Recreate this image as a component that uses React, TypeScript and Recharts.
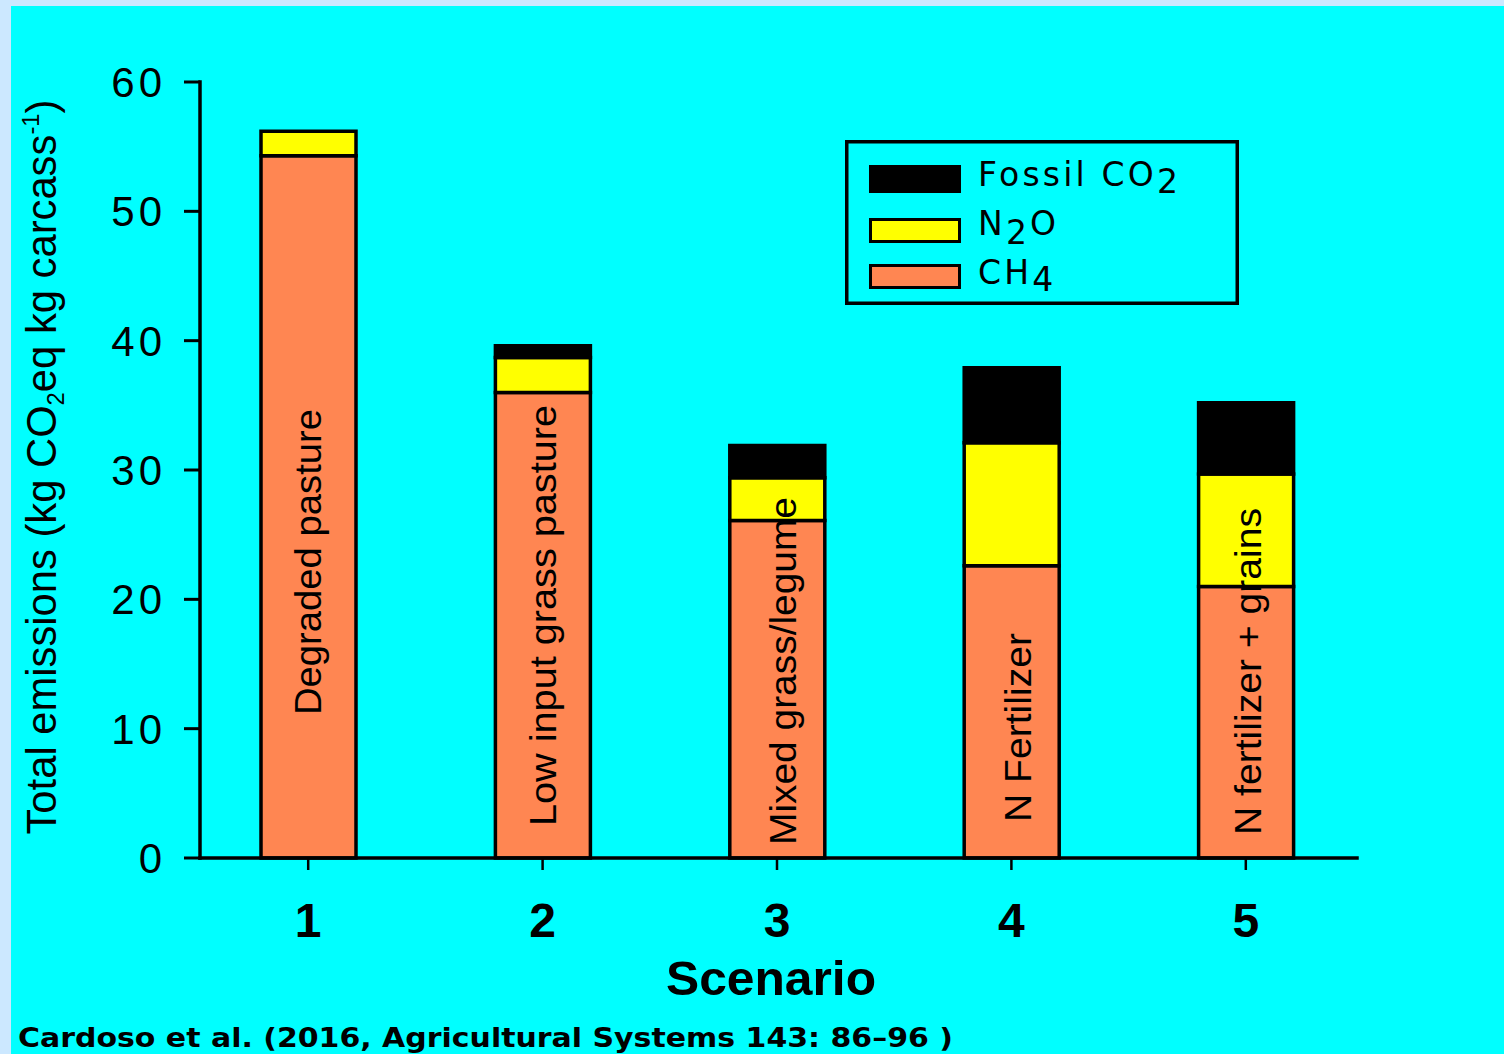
import { Bar, BarChart, Label, LabelList, Legend, XAxis, YAxis } from "recharts";

// scenario totals split by gas, kg CO2eq per kg carcass
const scenarios = ["1", "2", "3", "4", "5"];
const ch4 = [54.3, 36.0, 26.1, 22.6, 21.0];
const n2o = [1.9, 2.7, 3.3, 9.5, 8.7];
const fossilCo2 = [0, 0.9, 2.5, 5.8, 5.5];
const systemNames = ["Degraded pasture", "Low input grass pasture", "Mixed grass/legume", "N Fertilizer", "N fertilizer + grains"];
const yTicks = [0, 10, 20, 30, 40, 50, 60];

const data = scenarios.map((s, i) => ({ scenario: s, ch4: ch4[i], n2o: n2o[i], fossil: fossilCo2[i], name: systemNames[i] }));

// where the rotated system names sit inside the bars (px above the axis, text length)
const nameLift = [143, 32, 13, 36, 23];
const nameLength = [306, 421, 348, 189, 327];
const nameShift = [0, 0, 6, 6, 2];

const ARIAL = "'Liberation Sans', Arial, sans-serif";
const VERDANA = "'DejaVu Sans', Verdana, sans-serif";
const CH4_COLOR = "#FF8652";
const N2O_COLOR = "#FFFF00";

function XTick({ x, y, payload }: any) {
  return (
    <text x={x} y={y} dy="0.71em" textAnchor="middle" fontSize={48} fontWeight={700} fontFamily={ARIAL} fill="#000">
      {payload.value}
    </text>
  );
}

function YTick({ y, payload }: any) {
  return (
    <text x={166} y={y} dy="0.36em" textAnchor="end" fontSize={42} fontFamily={ARIAL} letterSpacing={4} fill="#000">
      {payload.value}
    </text>
  );
}

function SystemName(props: any) {
  const vb = props.viewBox ?? props;
  const i = props.index;
  const cx = vb.x + vb.width / 2 + nameShift[i];
  const bottom = vb.y + vb.height - nameLift[i];
  return (
    <text
      transform={`translate(${cx},${bottom}) rotate(-90)`}
      dy="0.35em"
      fontSize={37}
      fontFamily={ARIAL}
      fill="#000"
      textLength={nameLength[i]}
      lengthAdjust="spacingAndGlyphs"
    >
      {systemNames[i]}
    </text>
  );
}

function LegendBox() {
  return (
    <svg width={394} height={165} style={{ display: "block" }}>
      <rect x={1.75} y={1.75} width={390.5} height={161.5} fill="none" stroke="#000" strokeWidth={3.5} />
      <rect x={24} y={25} width={92} height={28} fill="#000" />
      <rect x={25.5} y={79.5} width={89} height={22} fill={N2O_COLOR} stroke="#000" strokeWidth={3} />
      <rect x={25.5} y={125.5} width={89} height={22} fill={CH4_COLOR} stroke="#000" strokeWidth={3} />
      <g fontSize={33} fontFamily={VERDANA} letterSpacing={3.2} fill="#000">
        <text x={133} y={46}>
          Fossil CO<tspan dy={7}>2</tspan>
        </text>
        <text x={133} y={95}>
          N<tspan dy={9}>2</tspan>
          <tspan dy={-9}>O</tspan>
        </text>
        <text x={133} y={144}>
          CH<tspan dy={7}>4</tspan>
        </text>
      </g>
    </svg>
  );
}

export default function App() {
  return (
    <div style={{ position: "absolute", left: 0, top: 0, width: 1504, height: 1054, background: "#00FFFF", overflow: "hidden" }}>
      <div style={{ position: "absolute", left: 0, top: 0, width: 1504, height: 6, background: "#CCE8FF" }} />
      <div style={{ position: "absolute", left: 0, top: 0, width: 11, height: 1054, background: "#CCE8FF" }} />
      <div style={{ position: "absolute", left: 0, top: 0 }}>
        <BarChart width={1504} height={1054} data={data} barSize={95} margin={{ top: 82, right: 147, bottom: 126, left: 90 }}>
          <XAxis
            dataKey="scenario"
            height={70}
            interval={0}
            padding={{ left: -9, right: -6 }}
            stroke="#000"
            axisLine={{ strokeWidth: 3.5, strokeLinecap: "square" }}
            tickLine={{ strokeWidth: 2.5 }}
            tickSize={12}
            tickMargin={33}
            tick={<XTick />}
          >
            <Label
              content={() => (
                <g>
                  <text x={771} y={995} textAnchor="middle" fontSize={48} fontWeight={700} fontFamily={ARIAL} fill="#000" textLength={210} lengthAdjust="spacingAndGlyphs">
                    Scenario
                  </text>
                  <text x={18} y={1047} fontSize={27} fontWeight={700} fontFamily={VERDANA} fill="#000" textLength={935} lengthAdjust="spacingAndGlyphs">
                    Cardoso et al. (2016, Agricultural Systems 143: 86–96 )
                  </text>
                </g>
              )}
            />
          </XAxis>
          <XAxis
            xAxisId="top"
            orientation="top"
            dataKey="scenario"
            height={0}
            padding={{ left: -9, right: -6 }}
            stroke="#000"
            axisLine={{ strokeWidth: 3.5, strokeLinecap: "square" }}
            tick={false}
            tickLine={false}
          />
          <YAxis
            domain={[0, 60]}
            ticks={yTicks}
            interval={0}
            width={110}
            stroke="#000"
            axisLine={{ strokeWidth: 3.5, strokeLinecap: "square" }}
            tickLine={{ strokeWidth: 3 }}
            tickSize={16}
            tick={<YTick />}
          >
            <Label
              content={() => (
                <text
                  transform="translate(56,467) rotate(-90)"
                  textAnchor="middle"
                  fontSize={42}
                  fontFamily={ARIAL}
                  fill="#000"
                  textLength={735}
                  lengthAdjust="spacingAndGlyphs"
                >
                  Total emissions (kg CO
                  <tspan fontSize={24} dy={8}>2</tspan>
                  <tspan dy={-8}>eq kg carcass</tspan>
                  <tspan fontSize={24} dy={-17}>-1</tspan>
                  <tspan dy={17}>)</tspan>
                </text>
              )}
            />
          </YAxis>
          <YAxis
            yAxisId="right"
            orientation="right"
            domain={[0, 60]}
            width={0}
            stroke="#000"
            axisLine={{ strokeWidth: 3.5, strokeLinecap: "square" }}
            tick={false}
            tickLine={false}
          />
          <Legend
            content={<LegendBox />}
            layout="horizontal"
            verticalAlign="middle"
            align="center"
            wrapperStyle={{ position: "absolute", left: 845, top: 140, width: 394, height: 165, margin: 0, padding: 0 }}
          />
          <Bar dataKey="ch4" name="CH4" stackId="a" fill={CH4_COLOR} stroke="#000" strokeWidth={3.5} isAnimationActive={false}>
            <LabelList dataKey="name" content={<SystemName />} />
          </Bar>
          <Bar dataKey="n2o" name="N2O" stackId="a" fill={N2O_COLOR} stroke="#000" strokeWidth={3.5} isAnimationActive={false} />
          <Bar dataKey="fossil" name="Fossil CO2" stackId="a" fill="#000" stroke="#000" strokeWidth={3.5} isAnimationActive={false} />
        </BarChart>
      </div>
    </div>
  );
}
